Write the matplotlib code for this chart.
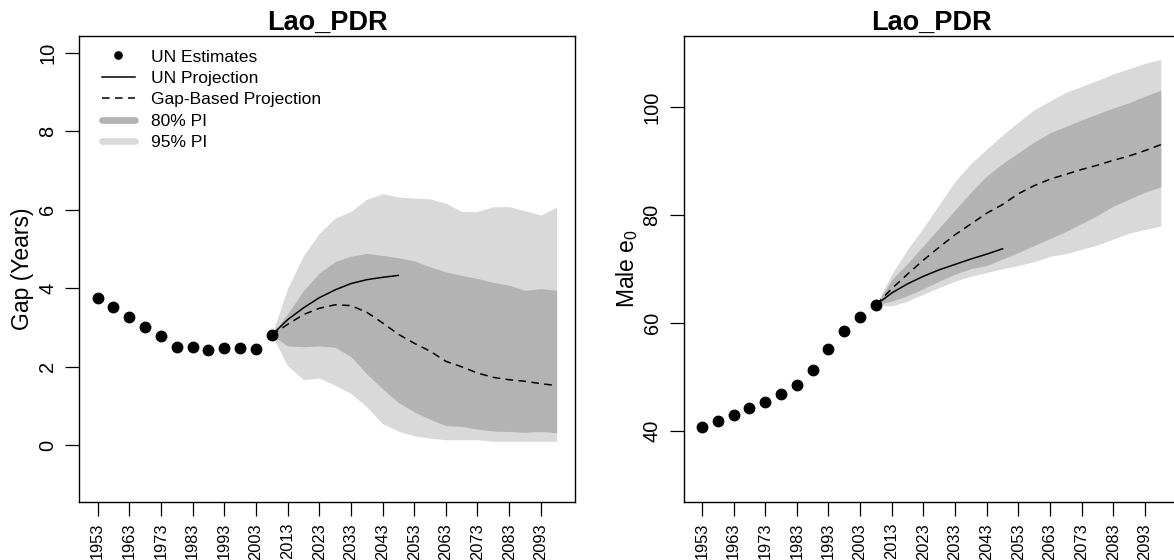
import matplotlib
matplotlib.use("Agg")
import matplotlib.pyplot as plt
from matplotlib.lines import Line2D

plt.rcParams['font.family'] = ['Liberation Sans', 'DejaVu Sans']
plt.rcParams['mathtext.default'] = 'regular'

# ---------------- data ----------------
country = "Lao_PDR"
obs_years = [1953, 1958, 1963, 1968, 1973, 1978, 1983, 1988, 1993, 1998, 2003, 2008]
gap_obs = [3.76, 3.52, 3.28, 3.02, 2.79, 2.50, 2.51, 2.42, 2.47, 2.47, 2.45, 2.81]
e0_obs = [40.6, 41.8, 42.9, 44.1, 45.3, 46.8, 48.5, 51.3, 55.1, 58.4, 61.1, 63.3]

un_years = [2008, 2013, 2018, 2023, 2028, 2033, 2038, 2043, 2048]
gap_un = [2.81, 3.20, 3.50, 3.76, 3.96, 4.12, 4.22, 4.28, 4.33]
e0_un = [63.3, 65.5, 67.2, 68.6, 69.8, 70.8, 71.8, 72.7, 73.7]

proj_years = [2008, 2013, 2018, 2023, 2028, 2033, 2038, 2043, 2048, 2053,
              2058, 2063, 2068, 2073, 2078, 2083, 2088, 2093, 2098]
gap_med = [2.81, 3.08, 3.33, 3.49, 3.58, 3.56, 3.39, 3.12, 2.83, 2.60,
           2.40, 2.14, 2.00, 1.84, 1.73, 1.67, 1.63, 1.57, 1.52]
gap_80_hi = [2.81, 3.35, 3.94, 4.39, 4.68, 4.82, 4.89, 4.84, 4.78, 4.70,
             4.55, 4.42, 4.33, 4.25, 4.15, 4.08, 3.95, 3.99, 3.95]
gap_80_lo = [2.81, 2.53, 2.51, 2.53, 2.50, 2.26, 1.82, 1.44, 1.09, 0.85,
             0.66, 0.50, 0.48, 0.41, 0.36, 0.35, 0.33, 0.35, 0.32]
gap_95_hi = [2.81, 4.00, 4.83, 5.40, 5.79, 5.96, 6.27, 6.41, 6.33, 6.30,
             6.28, 6.17, 5.96, 5.96, 6.08, 6.08, 5.98, 5.87, 6.07]
gap_95_lo = [2.81, 2.03, 1.67, 1.71, 1.53, 1.32, 0.98, 0.55, 0.36, 0.24,
             0.18, 0.14, 0.14, 0.14, 0.10, 0.10, 0.10, 0.10, 0.10]

e0_med = [63.3, 66.3, 69.0, 71.6, 74.0, 76.3, 78.3, 80.3, 81.9, 83.9,
          85.4, 86.6, 87.5, 88.4, 89.2, 90.1, 90.9, 91.9, 93.0]
e0_80_hi = [63.3, 68.0, 71.0, 74.3, 77.6, 80.9, 84.2, 87.2, 89.5, 91.5,
            93.5, 95.2, 96.4, 97.6, 98.7, 99.8, 100.8, 102.0, 103.1]
e0_80_lo = [63.3, 64.0, 65.0, 66.3, 67.7, 69.0, 70.0, 70.6, 71.8, 73.0,
            74.3, 75.6, 76.9, 78.4, 79.9, 81.6, 82.9, 84.2, 85.2]
e0_95_hi = [63.3, 69.0, 73.6, 77.6, 81.9, 86.2, 89.5, 92.2, 94.8, 97.2,
            99.5, 101.1, 102.7, 103.8, 104.9, 106.1, 107.1, 108.1, 108.8]
e0_95_lo = [63.3, 63.1, 64.0, 65.3, 66.5, 67.7, 68.6, 69.3, 70.0, 70.6,
            71.3, 72.3, 72.8, 73.6, 74.4, 75.5, 76.6, 77.3, 77.9]

xtick_years = list(range(1953, 2094, 10))
gap_yticks = [0, 2, 4, 6, 8, 10]
e0_yticks = [40, 60, 80, 100]

labels = ["UN Estimates", "UN Projection", "Gap-Based Projection", "80% PI", "95% PI"]

# ---------------- style ----------------
C80 = "#B3B3B3"
C95 = "#D9D9D9"
DASH = (0, (5.0, 3.5))

fig = plt.figure(figsize=(11.74, 5.60), dpi=100)
ax1 = fig.add_axes([0.06755, 0.1041, 0.4222, 0.8321])
ax2 = fig.add_axes([0.5822, 0.1041, 0.4222, 0.8321])


def draw(ax, obs, un, med, lo95, hi95, lo80, hi80, ylim, yticks, ylabel, lpad):
    ax.fill_between(proj_years, lo95, hi95, color=C95, lw=0, zorder=1)
    ax.fill_between(proj_years, lo80, hi80, color=C80, lw=0, zorder=2)
    ax.plot(un_years, un, color="black", lw=1.1, zorder=3)
    ax.plot(proj_years, med, color="black", lw=1.1, linestyle=DASH, zorder=3)
    ax.plot(obs_years, obs, "o", color="black", markersize=7.5, zorder=4)
    ax.set_xlim(1947.2, 2103.8)
    ax.set_ylim(*ylim)
    ax.set_xticks(xtick_years)
    ax.set_xticklabels([str(y) for y in xtick_years], rotation=90, fontsize=11.8)
    ax.set_yticks(yticks)
    ax.set_yticklabels([str(v) for v in yticks], rotation=90, va="center", fontsize=14.4)
    ax.tick_params(axis="both", direction="out", length=9.8, width=0.9, color="black")
    ax.tick_params(axis="x", pad=5.5)
    ax.tick_params(axis="y", pad=6)
    for s in ax.spines.values():
        s.set_linewidth(1.0)
    ax.set_ylabel(ylabel, fontsize=16.5, labelpad=lpad)
    ax.set_title(country, fontsize=19.5, fontweight="bold", pad=3.5)


draw(ax1, gap_obs, gap_un, gap_med, gap_95_lo, gap_95_hi, gap_80_lo, gap_80_hi,
     (-1.44, 10.44), gap_yticks, "Gap (Years)", 3)
draw(ax2, e0_obs, e0_un, e0_med, e0_95_lo, e0_95_hi, e0_80_lo, e0_80_hi,
     (26.8, 113.2), e0_yticks, "Male $e_0$", 1.5)

handles = [
    Line2D([], [], marker="o", color="black", linestyle="none", markersize=5.2),
    Line2D([], [], color="black", lw=1.1),
    Line2D([], [], color="black", lw=1.1, linestyle=DASH),
    Line2D([], [], color=C80, lw=4.8, solid_capstyle="round"),
    Line2D([], [], color=C95, lw=4.8, solid_capstyle="round"),
]
ax1.legend(handles, labels, loc="upper left", bbox_to_anchor=(0.031, 0.9856),
           frameon=False, fontsize=12.5,
           handlelength=1.92, handletextpad=0.92, labelspacing=0.36,
           borderaxespad=0.0, borderpad=0.4)

fig.savefig("out.png", dpi=100)
